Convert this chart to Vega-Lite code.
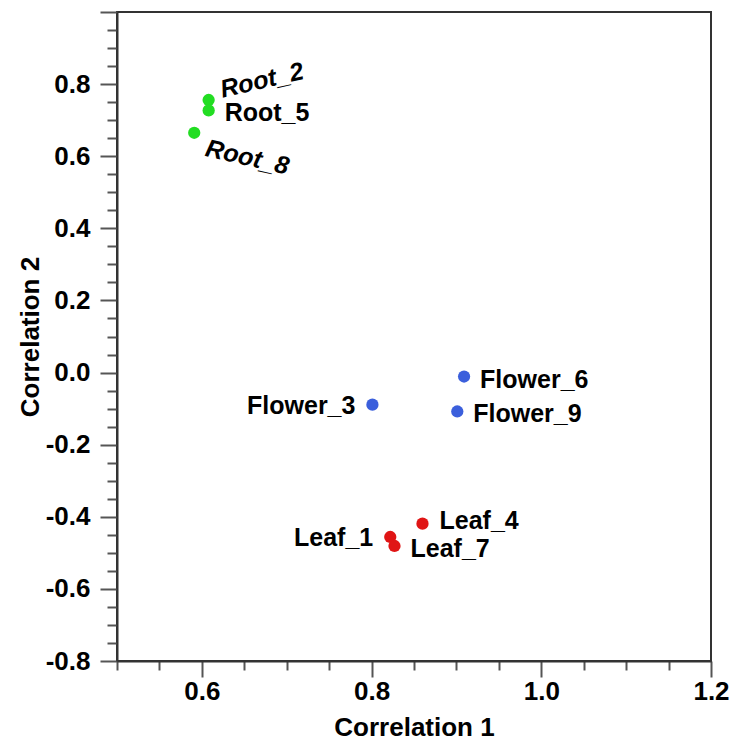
{
  "$schema": "https://vega.github.io/schema/vega-lite/v6.json",
  "width": 594,
  "height": 649,
  "autosize": "none",
  "padding": {"left": 117, "top": 12, "right": 23, "bottom": 81},
  "background": "white",
  "config": {
    "view": {"stroke": "#333333", "strokeWidth": 2},
    "font": "Liberation Sans"
  },
  "data": {
    "values": [
      {"name": "Root_2", "c1": 0.608, "c2": 0.756, "tissue": "Root", "pos": "up"},
      {"name": "Root_5", "c1": 0.608, "c2": 0.727, "tissue": "Root", "pos": "right"},
      {"name": "Root_8", "c1": 0.591, "c2": 0.665, "tissue": "Root", "pos": "down"},
      {"name": "Flower_3", "c1": 0.801, "c2": -0.089, "tissue": "Flower", "pos": "left"},
      {"name": "Flower_6", "c1": 0.909, "c2": -0.011, "tissue": "Flower", "pos": "right"},
      {"name": "Flower_9", "c1": 0.901, "c2": -0.108, "tissue": "Flower", "pos": "right"},
      {"name": "Leaf_1", "c1": 0.822, "c2": -0.456, "tissue": "Leaf", "pos": "left"},
      {"name": "Leaf_4", "c1": 0.860, "c2": -0.419, "tissue": "Leaf", "pos": "rightup"},
      {"name": "Leaf_7", "c1": 0.827, "c2": -0.481, "tissue": "Leaf", "pos": "right"}
    ]
  },
  "encoding": {
    "x": {
      "field": "c1", "type": "quantitative",
      "scale": {"domain": [0.5, 1.2], "nice": false, "zero": false},
      "axis": {
        "title": "Correlation 1",
        "values": [0.5, 0.55, 0.6, 0.65, 0.7, 0.75, 0.8, 0.85, 0.9, 0.95, 1.0, 1.05, 1.1, 1.15, 1.2],
        "labelExpr": "round(datum.value*100) % 20 == 0 ? format(datum.value, '.1f') : ''",
        "tickSize": {"condition": {"test": "round(datum.value*100) % 20 == 0", "value": 16}, "value": 9},
        "tickColor": "#555555", "tickWidth": 2,
        "domainColor": "#333333", "domainWidth": 2,
        "labelFontSize": 26, "labelFontWeight": "bold", "labelColor": "black", "labelPadding": 1,
        "labelFlush": false, "labelOverlap": false,
        "titleFontSize": 26, "titleFontWeight": "bold", "titleColor": "black", "titlePadding": 10,
        "grid": false
      }
    },
    "y": {
      "field": "c2", "type": "quantitative",
      "scale": {"domain": [-0.8, 1.0], "nice": false, "zero": false},
      "axis": {
        "title": "Correlation 2",
        "values": [-0.8, -0.75, -0.7, -0.65, -0.6, -0.55, -0.5, -0.45, -0.4, -0.35, -0.3, -0.25, -0.2, -0.15, -0.1, -0.05, 0, 0.05, 0.1, 0.15, 0.2, 0.25, 0.3, 0.35, 0.4, 0.45, 0.5, 0.55, 0.6, 0.65, 0.7, 0.75, 0.8, 0.85, 0.9, 0.95, 1.0],
        "labelExpr": "(round(datum.value*100) % 20 == 0 && datum.value < 0.95) ? (datum.value < -0.01 ? '-' : '') + format(abs(datum.value), '.1f') : ''",
        "tickSize": {"condition": {"test": "round(datum.value*100) % 20 == 0", "value": 17}, "value": 10},
        "tickColor": "#555555", "tickWidth": 2,
        "domainColor": "#333333", "domainWidth": 2,
        "labelFontSize": 26, "labelFontWeight": "bold", "labelColor": "black", "labelPadding": 10,
        "labelFlush": false, "labelOverlap": false,
        "titleFontSize": 26, "titleFontWeight": "bold", "titleColor": "black", "titlePadding": 2,
        "grid": false
      }
    }
  },
  "layer": [
    {
      "mark": {"type": "circle", "size": 150, "opacity": 1},
      "encoding": {
        "color": {
          "field": "tissue", "type": "nominal",
          "scale": {"domain": ["Root", "Flower", "Leaf"], "range": ["#22dd22", "#3b5fdc", "#e01515"]},
          "legend": null
        }
      }
    },
    {
      "transform": [{"filter": "datum.pos == 'right'"}],
      "mark": {"type": "text", "align": "left", "baseline": "middle", "dx": 16, "dy": 3, "fontSize": 25, "fontWeight": "bold", "color": "black"},
      "encoding": {"text": {"field": "name"}}
    },
    {
      "transform": [{"filter": "datum.pos == 'rightup'"}],
      "mark": {"type": "text", "align": "left", "baseline": "middle", "dx": 17, "dy": -3, "fontSize": 25, "fontWeight": "bold", "color": "black"},
      "encoding": {"text": {"field": "name"}}
    },
    {
      "transform": [{"filter": "datum.pos == 'left'"}],
      "mark": {"type": "text", "align": "right", "baseline": "middle", "dx": -17, "dy": 1, "fontSize": 25, "fontWeight": "bold", "color": "black"},
      "encoding": {"text": {"field": "name"}}
    },
    {
      "transform": [{"filter": "datum.pos == 'up'"}],
      "mark": {"type": "text", "align": "left", "baseline": "middle", "dx": 14, "dy": -7, "angle": 347, "fontSize": 25, "fontWeight": "bold", "color": "black", "fontStyle": "italic"},
      "encoding": {"text": {"field": "name"}}
    },
    {
      "transform": [{"filter": "datum.pos == 'down'"}],
      "mark": {"type": "text", "align": "left", "baseline": "middle", "dx": 15, "dy": 12, "angle": 13, "fontSize": 25, "fontWeight": "bold", "color": "black", "fontStyle": "italic"},
      "encoding": {"text": {"field": "name"}}
    }
  ]
}
